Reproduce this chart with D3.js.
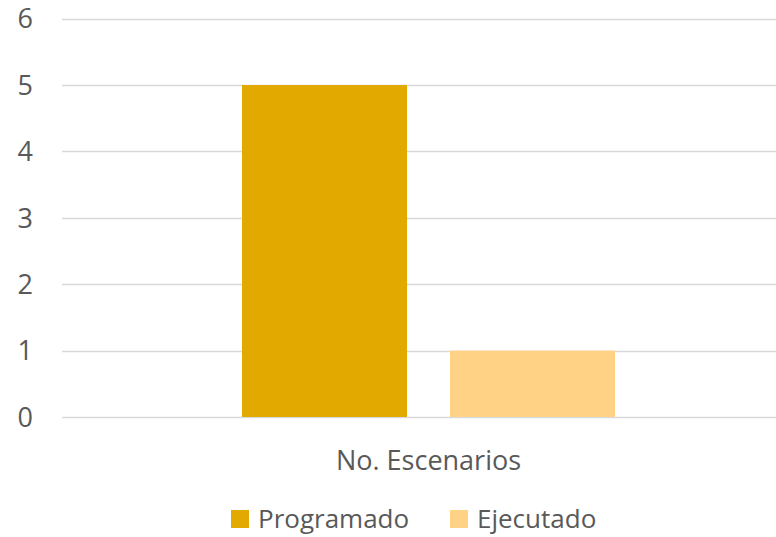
<!DOCTYPE html>
<html><head><meta charset="utf-8">
<script src="https://cdn.jsdelivr.net/npm/d3@7"></script>
<style>body{margin:0;background:#fff}svg{display:block}text{font-family:"Open Sans","Liberation Sans",sans-serif;fill:#595959}</style>
</head><body><svg id="c" width="776" height="537"></svg>
<script>
const categories = ["No. Escenarios"];
const seriesNames = ["Programado", "Ejecutado"];
const programado = [5];
const ejecutado = [1];
const yTicks = [0, 1, 2, 3, 4, 5, 6];
const colors = ["#E2AA00", "#FFD286"];

const svg = d3.select("#c");
const y = d3.scaleLinear().domain([0, 6]).range([417, 18.6]);
const x = d3.scaleBand().domain(categories).range([62, 795]).paddingInner(0).paddingOuter(0);
const bandW = x.bandwidth();
const x1 = d3.scaleBand().domain(seriesNames).range([0, 373]).paddingInner(43/208);

// gridlines
svg.append("g").selectAll("line").data(yTicks).join("line")
  .attr("x1", 62).attr("x2", 776)
  .attr("y1", d => Math.round(y(d)) + 0.5).attr("y2", d => Math.round(y(d)) + 0.5)
  .attr("stroke", "#D9D9D9").attr("stroke-width", 1.5);

svg.append("g").selectAll("text").data(yTicks).join("text")
  .attr("x", 33).attr("y", d => y(d)).attr("dy", "0.36em")
  .attr("text-anchor", "end").attr("font-size", 27).text(d => d);

const data = categories.map((c, i) => ({c, vals: [programado[i], ejecutado[i]]}));
const g = svg.append("g");
data.forEach(d => {
  const off = x(d.c) + (bandW - 373) / 2;
  d.vals.forEach((v, j) => {
    g.append("rect")
      .attr("x", off + x1(seriesNames[j]))
      .attr("width", x1.bandwidth())
      .attr("y", y(v)).attr("height", y(0) - y(v))
      .attr("fill", colors[j]);
  });
});

svg.append("g").selectAll("text").data(categories).join("text")
  .attr("x", d => x(d) + bandW / 2).attr("y", 470)
  .attr("text-anchor", "middle").attr("font-size", 27).text(d => d);

// legend
const legX = [231, 450];
const leg = svg.append("g");
seriesNames.forEach((s, i) => {
  leg.append("rect").attr("x", legX[i]).attr("y", 510).attr("width", 18).attr("height", 18).attr("fill", colors[i]);
  leg.append("text").attr("x", legX[i] + 27).attr("y", 528).attr("font-size", 26).text(s);
});
</script></body></html>
